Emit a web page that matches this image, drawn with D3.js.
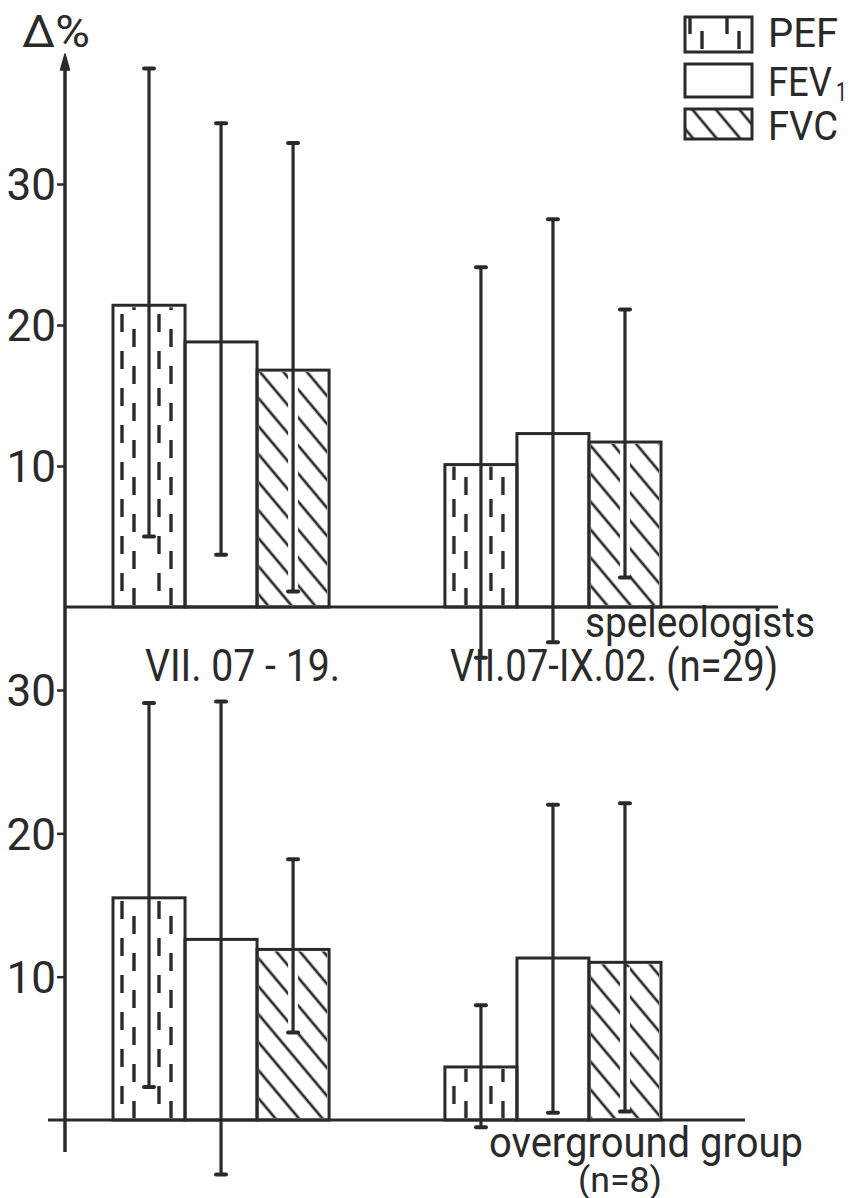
<!DOCTYPE html>
<html><head><meta charset="utf-8">
<script src="https://cdn.jsdelivr.net/npm/d3@7"></script>
<style>
body{margin:0;background:#fff}
svg{display:block}
text{font-family:Roboto,"DejaVu Sans",sans-serif;font-weight:400;fill:#2a2a2a}
</style>
</head><body>
<svg id="c" width="851" height="1198"></svg>
<script>
// ---- data ----
const measures = ["PEF", "FEV1", "FVC"];
const legendLabels = ["PEF", "FEV", "FVC"];
const periods = ["VII. 07 - 19.", "VII.07-IX.02. (n=29)"];
const yTicks = [10, 20, 30];
// speleologists: rows = periods, columns = measures
const speleoMean = [[21.4, 18.8, 16.8], [10.1, 12.3, 11.7]];
const speleoLow  = [[5.0, 3.7, 1.1], [-3.6, -2.5, 2.1]];
const speleoHigh = [[38.2, 34.3, 32.9], [24.1, 27.5, 21.1]];
// overground group
const overMean = [[15.5, 12.6, 11.9], [3.7, 11.3, 11.0]];
const overLow  = [[2.3, -3.8, 6.1], [-0.5, 0.5, 0.6]];
const overHigh = [[29.1, 29.2, 18.2], [8.0, 22.0, 22.1]];

// ---- layout ----
const INK = "#2a2a2a";
const svg = d3.select("#c");
const defs = svg.append("defs");

const x0 = d3.scaleBand().domain([0, 1]).range([65, 709]).paddingInner(0.349).paddingOuter(0.1446);
const x1 = d3.scaleBand().domain(measures).range([0, x0.bandwidth()]);

const yTop = d3.scaleLinear().domain([0, 30]).range([607, 184]);
const yBot = d3.scaleLinear().domain([0, 30]).range([1120, 690]);

function pefPattern(id, px, py) {
  const p = defs.append("pattern").attr("id", id).attr("patternUnits", "userSpaceOnUse")
    .attr("x", px).attr("y", py).attr("width", 37).attr("height", 37);
  p.append("line").attr("x1", 9).attr("x2", 9).attr("y1", 3).attr("y2", 21)
    .attr("stroke", INK).attr("stroke-width", 3.4);
  p.append("line").attr("x1", 21).attr("x2", 21).attr("y1", 18).attr("y2", 36)
    .attr("stroke", INK).attr("stroke-width", 3.4);
}
function fvcPattern(id, px, py) {
  const p = defs.append("pattern").attr("id", id).attr("patternUnits", "userSpaceOnUse")
    .attr("x", px).attr("y", py).attr("width", 18).attr("height", 18)
    .attr("patternTransform", "rotate(-40)");
  p.append("line").attr("x1", 9).attr("x2", 9).attr("y1", -2).attr("y2", 20)
    .attr("stroke", INK).attr("stroke-width", 2.7);
}

function drawPanel(pid, y, means, lows, highs, baseFrom, baseTo) {
  const g = svg.append("g");
  const rows = [];
  means.forEach((row, gi) => row.forEach((v, mi) => {
    rows.push({gi, m: measures[mi], v, lo: lows[gi][mi], hi: highs[gi][mi]});
  }));
  rows.forEach((d, i) => {
    const bx = x0(d.gi) + x1(d.m);
    const id = pid + "-" + i;
    if (d.m === "PEF") { pefPattern(id, bx, y(0)); d.fill = `url(#${id})`; }
    else if (d.m === "FVC") { fvcPattern(id, bx, y(0)); d.fill = `url(#${id})`; }
    else d.fill = "#fff";
    d.bx = bx;
  });
  const w = x1.bandwidth();
  g.selectAll("rect.fill").data(rows).join("rect")
    .attr("x", d => d.bx + 2).attr("y", d => y(d.v) + 2)
    .attr("width", w - 4).attr("height", d => y(0) - y(d.v) - 4)
    .attr("fill", d => d.fill);
  g.selectAll("line.halo").data(rows.filter(d => d.m !== "FEV1")).join("line")
    .attr("x1", d => d.bx + w / 2).attr("x2", d => d.bx + w / 2)
    .attr("y1", d => y(Math.max(d.lo, 0)) + 2).attr("y2", d => y(d.v) + 5)
    .attr("stroke", "#fff").attr("stroke-width", 10);
  g.selectAll("rect.out").data(rows).join("rect")
    .attr("x", d => d.bx).attr("y", d => y(d.v))
    .attr("width", w).attr("height", d => y(0) - y(d.v))
    .attr("fill", "none").attr("stroke", INK).attr("stroke-width", 3);
  const eb = g.selectAll("g.eb").data(rows).join("g");
  eb.append("line")
    .attr("x1", d => d.bx + w / 2).attr("x2", d => d.bx + w / 2)
    .attr("y1", d => y(d.lo)).attr("y2", d => y(d.hi))
    .attr("stroke", INK).attr("stroke-width", 3.2);
  eb.append("line")
    .attr("x1", d => d.bx + w / 2 - 5).attr("x2", d => d.bx + w / 2 + 5)
    .attr("y1", d => y(d.hi)).attr("y2", d => y(d.hi))
    .attr("stroke", INK).attr("stroke-width", 4).attr("stroke-linecap", "round");
  eb.append("line")
    .attr("x1", d => d.bx + w / 2 - 5).attr("x2", d => d.bx + w / 2 + 5)
    .attr("y1", d => y(d.lo)).attr("y2", d => y(d.lo))
    .attr("stroke", INK).attr("stroke-width", 4).attr("stroke-linecap", "round");
  g.append("line").attr("x1", baseFrom).attr("x2", baseTo)
    .attr("y1", y(0)).attr("y2", y(0)).attr("stroke", INK).attr("stroke-width", 3);
  const ax = svg.append("g").attr("transform", "translate(65,0)")
    .call(d3.axisLeft(y).tickValues(yTicks).tickSize(8).tickPadding(1).tickFormat(d3.format("d")));
  ax.select(".domain").remove();
  ax.selectAll("line").attr("stroke", INK).attr("stroke-width", 2.5);
  ax.selectAll("text").attr("font-size", 44).attr("dy", "0.36em")
    .style("font-family", "Roboto, 'DejaVu Sans', sans-serif").attr("fill", INK);
}

drawPanel("sp", yTop, speleoMean, speleoLow, speleoHigh, 65, 778);
drawPanel("og", yBot, overMean, overLow, overHigh, 48, 745);

svg.append("line").attr("x1", 65).attr("x2", 65).attr("y1", 66).attr("y2", 1152)
  .attr("stroke", INK).attr("stroke-width", 3.5);
svg.append("path").attr("d", "M65,54 L60.5,70 L69.5,70 Z").attr("fill", INK)
  .attr("stroke", INK).attr("stroke-width", 1.5).attr("stroke-linejoin", "round");

function label(txt, x, y, size, len) {
  const t = svg.append("text").attr("x", x).attr("y", y).attr("font-size", size).text(txt);
  if (len) t.attr("textLength", len).attr("lengthAdjust", "spacingAndGlyphs");
  return t;
}
label("Δ%", 22, 47, 44, 68);
label(periods[0], 145, 681, 44, 195);
label(periods[1], 450, 681, 44, 328);
label("speleologists", 585, 637, 42, 230);
label("overground  group", 489, 1157, 42, 314);
label("(n=8)", 578, 1192, 35, 84);

// legend
const legY = [17, 64, 109];
const legH = [35, 33, 30];
measures.forEach((m, i) => {
  const id = "leg-" + i;
  let fill = "#fff";
  if (m === "PEF") { pefPattern(id, 681, legY[i] - 4); fill = `url(#${id})`; }
  if (m === "FVC") { fvcPattern(id, 685, legY[i]); fill = `url(#${id})`; }
  svg.append("rect").attr("x", 685).attr("y", legY[i]).attr("width", 67).attr("height", legH[i])
    .attr("fill", fill).attr("stroke", INK).attr("stroke-width", 3);
  const by = [47, 96, 140][i];
  if (m === "FEV1") {
    label(legendLabels[i], 768, by, 40, 64);
    label("1", 836, by + 5, 26, 11);
  } else {
    label(legendLabels[i], 768, by, 40, 70);
  }
});
</script>
</body></html>
